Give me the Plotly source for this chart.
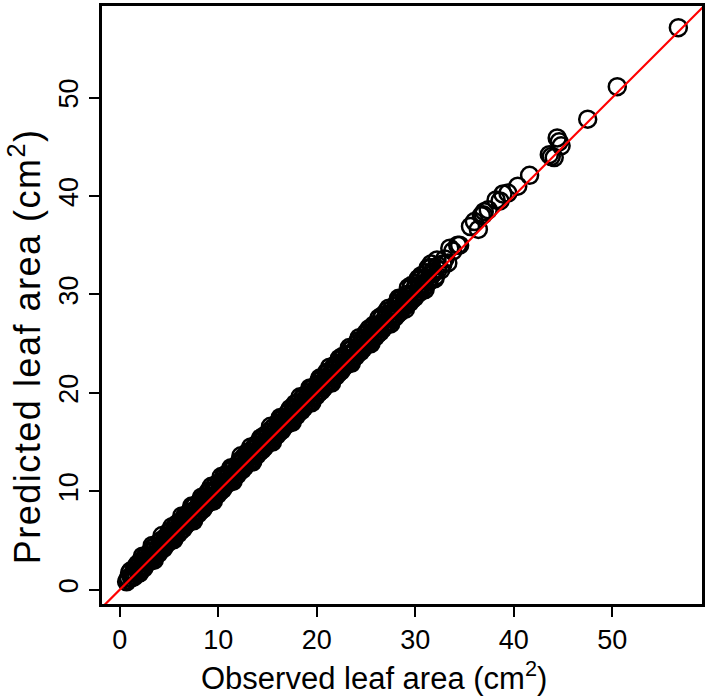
import plotly.graph_objects as go

# Observed vs predicted leaf area (cm2)
obs_a = [0.7, 1.2, 1.7, 2.2, 2.7, 3.2, 3.7, 4.2, 4.7, 5.2, 5.7, 6.2, 6.7, 7.2, 7.7, 8.2, 8.7, 9.2, 9.7, 10.2,
         10.7, 11.2, 11.7, 12.2, 12.7, 13.2, 13.7, 14.2, 14.7, 15.2, 15.7, 16.2, 16.7, 17.2, 17.7, 18.2, 18.7, 19.2, 19.7, 20.2,
         20.7, 21.2, 21.7, 22.2, 22.7, 23.2, 23.7, 24.2, 24.7, 25.2, 25.7, 26.2, 26.7, 27.2, 27.7, 28.2, 28.7, 29.2, 29.7, 30.2,
         30.8, 31.4, 32.0, 32.6, 33.3]
pred_a = [0.8, 1.2, 1.6, 2.1, 2.7, 3.1, 3.6, 4.2, 4.6, 5.1, 5.7, 6.0, 6.6, 7.1, 7.6, 8.0, 8.6, 9.0, 9.6, 10.0,
          10.6, 11.0, 11.5, 12.1, 12.5, 13.0, 13.6, 14.0, 14.5, 15.1, 15.5, 16.0, 16.6, 17.0, 17.5, 18.1, 18.5, 19.0, 19.6, 20.0,
          20.5, 21.1, 21.5, 22.0, 22.6, 23.0, 23.5, 24.1, 24.5, 25.0, 25.6, 26.0, 26.5, 27.1, 27.5, 28.0, 28.6, 29.0, 29.5, 30.1,
          30.6, 31.3, 31.8, 32.5, 33.2]

obs_b = [0.9, 1.4, 1.9, 2.4, 2.9, 3.4, 3.9, 4.4, 4.9, 5.4, 5.9, 6.4, 6.9, 7.4, 7.9, 8.4, 8.9, 9.4, 9.9, 10.4,
         10.9, 11.4, 11.9, 12.4, 12.9, 13.4, 13.9, 14.4, 14.9, 15.4, 15.9, 16.4, 16.9, 17.4, 17.9, 18.4, 18.9, 19.4, 19.9, 20.4,
         20.9, 21.4, 21.9, 22.4, 22.9, 23.4, 23.9, 24.4, 24.9, 25.4, 25.9, 26.4, 26.9, 27.4, 27.9, 28.4, 28.9, 29.4, 29.9, 30.5,
         31.1, 31.7, 32.3, 33.0, 33.8, 34.5]
pred_b = [1.2, 1.8, 2.3, 2.8, 3.3, 3.9, 4.3, 4.8, 5.4, 5.8, 6.3, 6.9, 7.3, 7.8, 8.4, 8.8, 9.3, 9.9, 10.3, 10.8,
          11.4, 11.8, 12.3, 12.9, 13.3, 13.8, 14.4, 14.8, 15.4, 15.9, 16.3, 16.9, 17.4, 17.8, 18.4, 18.9, 19.4, 19.9, 20.4, 20.9,
          21.4, 21.9, 22.4, 22.9, 23.4, 23.9, 24.4, 24.9, 25.4, 25.9, 26.4, 26.9, 27.5, 27.9, 28.4, 29.0, 29.4, 29.9, 30.5, 31.0,
          31.7, 32.3, 32.9, 33.6, 34.4, 35.0]

obs_c = [1.0, 1.8, 2.6, 3.4, 4.2, 5.0, 5.8, 6.6, 7.4, 8.2, 9.0, 9.8, 10.6, 11.4, 12.2, 13.0, 13.8, 14.6, 15.4, 16.2,
         17.0, 17.8, 18.6, 19.4, 20.2, 21.0, 21.8, 22.6, 23.4, 24.2, 25.0, 25.8, 26.6, 27.1, 28.4, 29.6, 30.6, 31.6, 32.2, 33.5,
         34.3, 35.6, 36.4, 36.9, 37.4, 38.2, 38.9]
pred_c = [1.7, 2.6, 3.4, 4.3, 5.0, 5.9, 6.7, 7.5, 8.4, 9.1, 10.0, 10.7, 11.6, 12.3, 13.1, 14.0, 14.7, 15.6, 16.3, 17.2,
          17.9, 18.9, 19.6, 20.4, 21.2, 22.1, 22.8, 23.7, 24.4, 25.3, 26.1, 26.9, 27.8, 28.3, 29.4, 30.9, 31.9, 33.1, 33.5, 34.7,
          35.0, 36.9, 36.6, 38.1, 38.6, 39.6, 40.2]

obs_d = [2.0, 5.5, 9.5, 13.5, 17.5, 21.5, 25.5, 29.0, 32.0, 3.5, 7.5, 11.5, 15.5, 19.5, 23.5, 27.5, 31.0]
pred_d = [1.7, 5.1, 9.0, 13.0, 17.0, 21.0, 25.0, 28.5, 31.6, 3.0, 7.0, 11.0, 15.0, 19.0, 23.0, 27.0, 30.5]

obs_e = [56.7, 50.5, 47.5, 44.4, 44.6, 44.8, 43.6, 43.8, 44.1, 41.6, 40.4, 39.4, 38.6, 37.0, 36.7, 36.0]
pred_e = [57.1, 51.1, 47.8, 45.9, 45.5, 45.1, 44.2, 44.0, 43.9, 42.1, 41.0, 40.3, 39.5, 38.4, 38.0, 37.4]

obs_f = [0.8, 1.3, 1.8, 2.3, 2.8, 3.3, 3.8, 4.3, 4.8, 5.3, 5.8, 6.3, 6.8, 7.3, 7.8, 8.3, 8.8, 9.3, 9.8, 10.3,
         10.8, 11.3, 11.8, 12.3, 12.8, 13.3, 13.8, 14.3, 14.8, 15.3, 15.8, 16.3, 16.8, 17.3, 17.8, 18.3, 18.8, 19.3, 19.8, 20.3,
         20.8, 21.3, 21.8, 22.3, 22.8, 23.3, 23.8, 24.3, 24.8, 25.3, 25.8, 26.3, 26.8, 27.3, 27.8, 28.3, 28.8, 29.3, 29.8, 30.3,
         30.8, 31.3, 31.8, 32.3, 32.8]
pred_f = [1.0, 1.5, 2.0, 2.4, 3.0, 3.5, 4.0, 4.5, 5.0, 5.5, 6.1, 6.5, 7.0, 7.5, 8.0, 8.5, 9.0, 9.5, 10.1, 10.5,
          11.0, 11.5, 12.0, 12.5, 13.0, 13.6, 14.0, 14.5, 15.0, 15.5, 16.0, 16.5, 17.1, 17.5, 18.0, 18.5, 19.0, 19.5, 20.0, 20.6,
          21.0, 21.5, 22.0, 22.5, 23.0, 23.5, 24.1, 24.5, 25.0, 25.5, 26.0, 26.5, 27.0, 27.6, 28.0, 28.5, 29.0, 29.5, 30.0, 30.6,
          31.0, 31.5, 32.1, 32.5, 33.1]

obs_g = [1.1, 1.6, 2.1, 2.6, 3.1, 3.6, 4.1, 4.6, 5.1, 5.6, 6.1, 6.6, 7.1, 7.6, 8.1, 8.6, 9.1, 9.6, 10.1, 10.6,
         11.1, 11.6, 12.1, 12.6, 13.1, 13.6, 14.1, 14.6, 15.1, 15.6, 16.1, 16.6, 17.1, 17.6, 18.1, 18.6, 19.1, 19.6, 20.1, 20.6,
         21.1, 21.6, 22.1, 22.6, 23.1, 23.6, 24.1, 24.6, 25.1, 25.6, 26.1, 26.6, 27.1, 27.6, 28.1, 28.6, 29.1, 29.6, 30.1, 30.6,
         31.1, 31.6]
pred_g = [1.9, 2.3, 2.9, 3.3, 3.9, 4.4, 4.9, 5.3, 5.9, 6.4, 6.9, 7.3, 7.9, 8.5, 8.9, 9.4, 9.9, 10.5, 10.9, 11.4,
          12.0, 12.4, 12.9, 13.5, 13.9, 14.4, 15.0, 15.4, 16.0, 16.5, 16.9, 17.5, 18.0, 18.4, 19.0, 19.5, 20.0, 20.5, 20.9, 21.5,
          22.0, 22.4, 23.0, 23.5, 23.9, 24.5, 25.0, 25.4, 26.0, 26.5, 26.9, 27.6, 28.0, 28.5, 29.1, 29.6, 30.0, 30.7, 31.1, 31.6,
          32.2, 32.7]

obs_h = [1.45, 1.95, 2.45, 2.95, 3.45, 3.95, 4.45, 4.95, 5.45, 5.95, 6.45, 6.95, 7.45, 7.95, 8.45, 8.95, 9.45, 9.95,
         10.45, 10.95, 11.45, 11.95, 12.45, 12.95, 13.45, 13.95, 14.45, 14.95, 15.45, 15.95, 16.45, 16.95, 17.45, 17.95,
         18.45, 18.95, 19.45, 19.95, 20.45, 20.95, 21.45, 21.95, 22.45, 22.95, 23.45, 23.95, 24.45, 24.95, 25.45, 25.95,
         26.45, 26.95, 27.45, 27.95, 28.45, 28.95, 29.45, 29.95, 30.45, 30.95]
pred_h = [1.3, 1.7, 2.2, 2.8, 3.2, 3.7, 4.2, 4.8, 5.2, 5.7, 6.2, 6.8, 7.2, 7.7, 8.2, 8.8, 9.2, 9.7,
          10.2, 10.8, 11.2, 11.7, 12.2, 12.8, 13.2, 13.7, 14.2, 14.8, 15.2, 15.7, 16.2, 16.8, 17.2, 17.7,
          18.2, 18.8, 19.2, 19.7, 20.2, 20.8, 21.2, 21.7, 22.2, 22.8, 23.2, 23.7, 24.2, 24.8, 25.2, 25.7,
          26.2, 26.8, 27.2, 27.7, 28.2, 28.8, 29.2, 29.7, 30.2, 30.8]

obs_i = [2.3, 3.3, 4.3, 5.3, 6.3, 7.3, 8.3, 9.3, 10.3, 11.3, 12.3, 13.3, 14.3, 15.3, 16.3, 17.3, 18.3, 19.3, 20.3, 21.3,
         22.3, 23.3, 24.3, 25.3, 26.3, 27.3, 28.3, 29.3, 30.3, 31.3]
pred_i = [3.4, 4.5, 5.5, 6.4, 7.5, 8.5, 9.4, 10.5, 11.5, 12.4, 13.6, 14.5, 15.4, 16.6, 17.5, 18.4, 19.6, 20.5, 21.5, 22.6,
          23.5, 24.6, 25.6, 26.5, 27.6, 28.6, 29.6, 30.7, 31.6, 32.7]

observed = obs_a + obs_b + obs_c + obs_d + obs_f + obs_g + obs_h + obs_i + obs_e
predicted = pred_a + pred_b + pred_c + pred_d + pred_f + pred_g + pred_h + pred_i + pred_e

tick_vals = [0, 10, 20, 30, 40, 50]
ref_line = [-5, 65]

font_family = "Liberation Sans, Arial, Helvetica, sans-serif"

fig = go.Figure()
fig.add_trace(go.Scatter(
    x=observed, y=predicted, mode="markers",
    marker=dict(symbol="circle-open", size=17, color="black", line=dict(width=2.5, color="black")),
    showlegend=False, hoverinfo="skip"))
fig.add_trace(go.Scatter(
    x=ref_line, y=ref_line, mode="lines",
    line=dict(color="#ff0000", width=2.2), showlegend=False, hoverinfo="skip"))

axis_common = dict(
    showgrid=False, zeroline=False, showline=True, mirror=True,
    linecolor="black", linewidth=2.5,
    ticks="outside", ticklen=10, tickwidth=2, tickcolor="black",
    tickvals=tick_vals, tickfont=dict(family=font_family, size=27, color="black"),
)

fig.update_layout(
    width=708, height=697,
    margin=dict(l=102, r=3, t=3, b=93),
    paper_bgcolor="white", plot_bgcolor="white",
    xaxis=dict(range=[-1.8, 59.1], **axis_common),
    yaxis=dict(range=[-1.45, 59.3], tickangle=-90, **axis_common),
    annotations=[
        dict(text="Observed leaf area (cm<sup>2</sup>)", xref="paper", yref="paper",
             x=0.454, y=-0.12, xanchor="center", yanchor="middle", showarrow=False,
             font=dict(family=font_family, size=31, color="black")),
        dict(text="Predicted leaf area (cm<sup>2</sup>)", xref="paper", yref="paper",
             x=-0.128, y=0.431, xanchor="center", yanchor="middle", textangle=-90, showarrow=False,
             font=dict(family=font_family, size=36, color="black")),
    ],
)

post = """
document.body.style.margin='0';
var yt = document.querySelector('.annotation[data-index="1"] .annotation-text');
if (yt) { yt.style.letterSpacing = '1.5px'; }
"""

fig.write_html("out.html", config={"displayModeBar": False}, post_script=post)
